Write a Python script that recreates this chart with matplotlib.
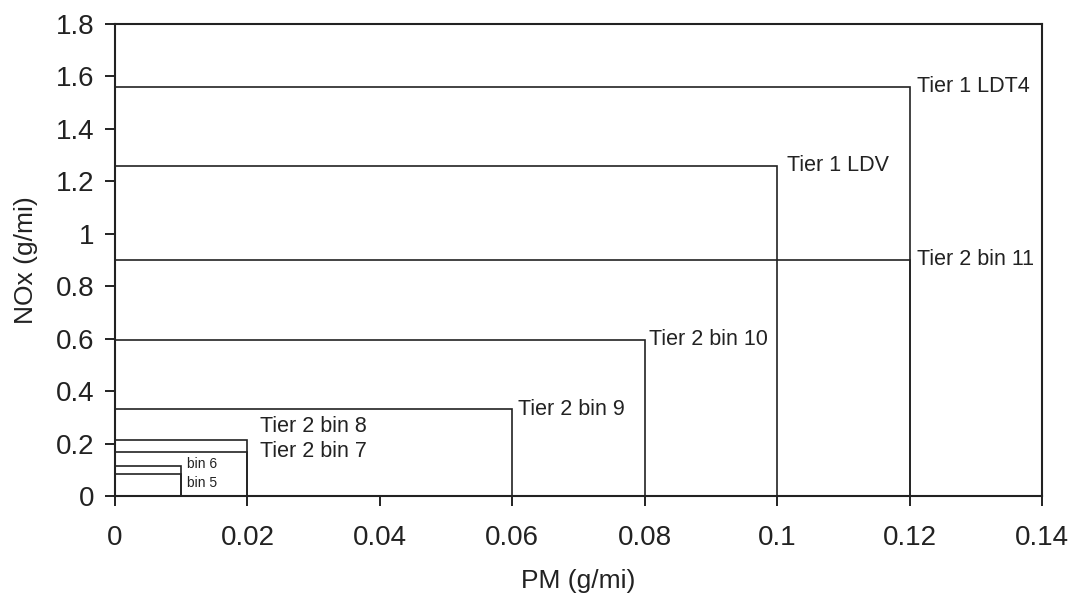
import matplotlib.pyplot as plt
from matplotlib.ticker import FuncFormatter

plt.rcParams['font.family'] = ['Liberation Sans', 'DejaVu Sans']

# emission standards: PM (g/mi) vs NOx (g/mi)
names = ['Tier 1 LDT4', 'Tier 1 LDV', 'Tier 2 bin 11', 'Tier 2 bin 10',
         'Tier 2 bin 9', 'Tier 2 bin 8', 'Tier 2 bin 7', 'bin 6', 'bin 5']
pm = [0.12, 0.10, 0.12, 0.08, 0.06, 0.02, 0.02, 0.01, 0.01]
nox = [1.56, 1.26, 0.90, 0.595, 0.33, 0.213, 0.169, 0.113, 0.082]

# label offsets in points (dx, dy) and font sizes
offsets = [(5, 0), (7, 0), (5, 0), (3, 0), (4, 0), (9, 10), (9, 0), (4, 2), (4, -6)]
sizes = [15.5, 15.5, 15.5, 15.5, 15.5, 15.5, 15.5, 10, 10]

fig = plt.figure(figsize=(10.69, 5.95), dpi=100)
ax = fig.add_axes([0.1076, 0.1664, 0.8672, 0.7933])

for n, x, y, (dx, dy), fs in zip(names, pm, nox, offsets, sizes):
    ax.plot([0, x, x], [y, y, 0], color='#222222', lw=1.2, solid_joinstyle='miter')
    ax.annotate(n, (x, y), xytext=(dx, dy), textcoords='offset points',
                ha='left', va='center', fontsize=fs, color='#222222')

ax.set_xlim(0, 0.14)
ax.set_ylim(0, 1.8)
ax.set_xticks([0, 0.02, 0.04, 0.06, 0.08, 0.1, 0.12, 0.14])
ax.set_yticks([0, 0.2, 0.4, 0.6, 0.8, 1.0, 1.2, 1.4, 1.6, 1.8])
fmt = FuncFormatter(lambda v, p: ('%.2f' % v).rstrip('0').rstrip('.'))
ax.xaxis.set_major_formatter(fmt)
ax.yaxis.set_major_formatter(fmt)
ax.tick_params(direction='out', length=7, width=1.4, labelsize=20,
               color='#222222', labelcolor='#222222')
ax.tick_params(axis='x', pad=14)
ax.tick_params(axis='y', pad=8)
for s in ax.spines.values():
    s.set_linewidth(1.5)
    s.set_color('#222222')

ax.set_xlabel('PM (g/mi)', fontsize=19, color='#222222', labelpad=13)
ax.set_ylabel('NOx (g/mi)', fontsize=19, color='#222222', labelpad=13)

fig.savefig('out.png', dpi=100)
